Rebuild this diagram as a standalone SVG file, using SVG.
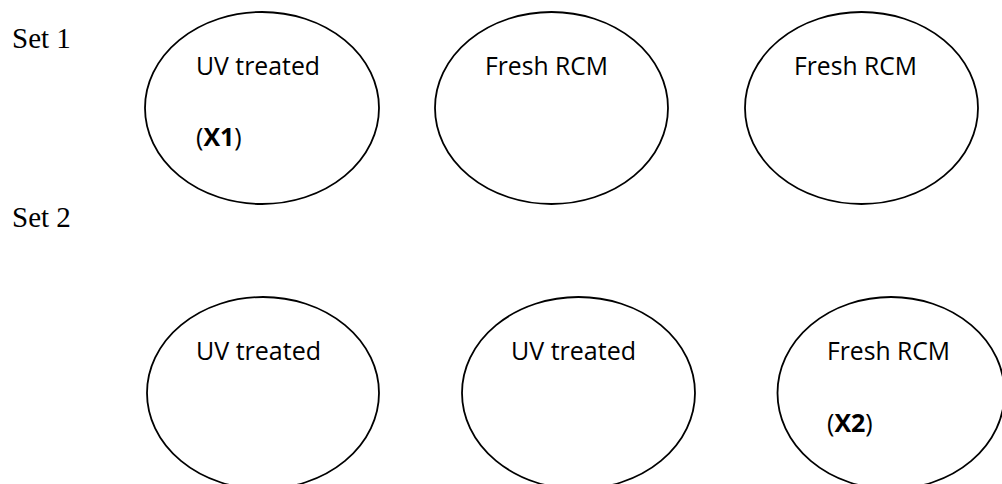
<svg xmlns="http://www.w3.org/2000/svg" width="1002" height="484" viewBox="0 0 1002 484">
<style>
.node ellipse{fill:#fff;stroke:#000;stroke-width:1.8}
.lbl{font-family:"Open Sans","Noto Sans",sans-serif;font-size:25px;fill:#000}
.b{font-weight:bold}
.set{font-family:"Liberation Serif","Times New Roman",serif;font-size:29px;fill:#000}
</style>
<rect width="1002" height="484" fill="#fff"/>
<text class="set" x="12" y="48">Set 1</text>
<text class="set" x="12" y="227">Set 2</text>
<g id="connectors"/>
<g id="n1" class="node"><ellipse cx="262" cy="108" rx="117" ry="96"/><text class="lbl" x="196" y="75" textLength="124" lengthAdjust="spacingAndGlyphs">UV treated</text><text class="lbl" x="196" y="146">(<tspan class="b">X1</tspan>)</text></g>
<g id="n2" class="node"><ellipse cx="551.5" cy="108" rx="116.5" ry="96"/><text class="lbl" x="485" y="75" textLength="123" lengthAdjust="spacingAndGlyphs">Fresh RCM</text></g>
<g id="n3" class="node"><ellipse cx="861.5" cy="108" rx="116.5" ry="96"/><text class="lbl" x="794" y="75" textLength="123" lengthAdjust="spacingAndGlyphs">Fresh RCM</text></g>
<g id="n4" class="node"><ellipse cx="263" cy="393" rx="116" ry="96"/><text class="lbl" x="196" y="360" textLength="125" lengthAdjust="spacingAndGlyphs">UV treated</text></g>
<g id="n5" class="node"><ellipse cx="578.5" cy="393" rx="116.5" ry="96"/><text class="lbl" x="511" y="360" textLength="125" lengthAdjust="spacingAndGlyphs">UV treated</text></g>
<g id="n6" class="node"><ellipse cx="891" cy="393" rx="113.5" ry="96"/><text class="lbl" x="827" y="360" textLength="123" lengthAdjust="spacingAndGlyphs">Fresh RCM</text><text class="lbl" x="827" y="432">(<tspan class="b">X2</tspan>)</text></g>
</svg>
